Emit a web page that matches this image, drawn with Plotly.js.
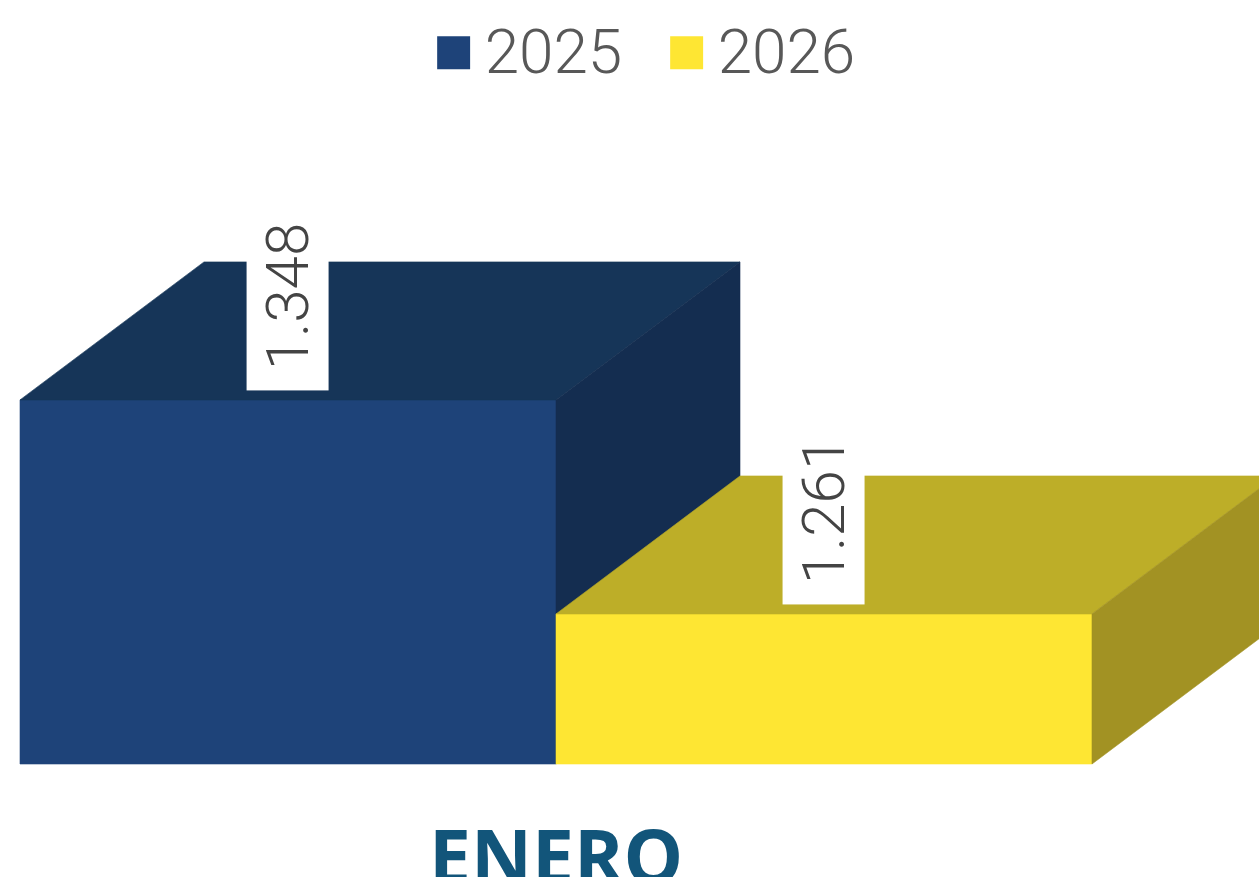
<!DOCTYPE html>
<html>
<head>
<meta charset="utf-8">
<script src="https://cdn.plot.ly/plotly-3.0.1.min.js"></script>
<style>
  html, body { margin: 0; padding: 0; background: #ffffff; }
  #chart { width: 1259px; height: 877px; }
</style>
</head>
<body>
<div id="chart"></div>
<script>
// ---- data ----
const categories = ['ENERO'];
const seriesNames = ['2025', '2026'];
const values2025 = [1348];
const values2026 = [1261];
const axisBase = 1200;   // value axis starts here

// ---- styles ----
const frontColors = ['#1e4379', '#fee633'];
const topColors   = ['#163558', '#bdae28'];
const sideColors  = ['#142d50', '#a29223'];

// ---- layout scales (pixel calibration) ----
const W = 1259, H = 877;
const marginT = 150, marginB = 75;
const plotBottomPx = H - marginB;
const pxPerUnitX = 1072;      // one category width in pixels
const pxPerUnitY = 2.46;      // pixels per value unit
const firstBarLeftPx = 20;
const basePx = 764;
const depthPxX = 184, depthPxY = 138;

const xMin = -0.5 - firstBarLeftPx / pxPerUnitX;
const xMax = xMin + W / pxPerUnitX;
const yMin = axisBase - (plotBottomPx - basePx) / pxPerUnitY;
const yMax = yMin + (plotBottomPx - marginT) / pxPerUnitY;
const dX = depthPxX / pxPerUnitX;
const dY = depthPxY / pxPerUnitY;

const allSeries = [values2025, values2026];
const nS = allSeries.length;
const barW = 1 / nS;

function fmt(v) {
  return String(Math.round(v)).replace(/\B(?=(\d{3})+(?!\d))/g, '.');
}

function poly(xs, ys, color) {
  return {
    type: 'scatter', mode: 'lines',
    x: xs.concat([xs[0]]), y: ys.concat([ys[0]]),
    fill: 'toself', fillcolor: color,
    line: { color: color, width: 0.6 },
    hoverinfo: 'skip', showlegend: false
  };
}

const traces = [];
const annotations = [];
categories.forEach(function (cat, ci) {
  allSeries.forEach(function (vals, si) {
    const v = vals[ci];
    const x0 = ci - 0.5 + si * barW;
    const x1 = x0 + barW;
    // front face
    traces.push(poly([x0, x1, x1, x0], [axisBase, axisBase, v, v], frontColors[si]));
    // top face
    traces.push(poly([x0, x1, x1 + dX, x0 + dX], [v, v, v + dY, v + dY], topColors[si]));
    // side face
    traces.push(poly([x1, x1 + dX, x1 + dX, x1], [axisBase, axisBase + dY, v + dY, v], sideColors[si]));
    annotations.push({
      x: x0 + barW / 2, y: v, xref: 'x', yref: 'y',
      text: '\u00a0' + fmt(v),
      textangle: -90, showarrow: false,
      xanchor: 'center', yanchor: 'bottom', yshift: 9,
      bgcolor: '#ffffff', borderpad: 5,
      font: { family: 'Roboto', size: 60, weight: 300, color: '#444444' }
    });
  });
});

// legend entries
seriesNames.forEach(function (name, si) {
  traces.push({
    type: 'scatter', mode: 'markers', x: [null], y: [null], name: name,
    marker: { symbol: 'square', size: 16, color: frontColors[si], line: { width: 0 } },
    hoverinfo: 'skip', showlegend: true
  });
});

const layout = {
  width: W, height: H,
  margin: { l: 0, r: 0, t: marginT, b: marginB, pad: 0 },
  paper_bgcolor: '#ffffff', plot_bgcolor: '#ffffff',
  showlegend: true,
  legend: {
    orientation: 'h', x: 0.5295, xanchor: 'center', y: 1.155, yanchor: 'middle',
    entrywidth: 188, entrywidthmode: 'pixels',
    font: { family: 'Roboto', size: 62, weight: 300, color: '#585858' },
    itemclick: false, itemdoubleclick: false
  },
  xaxis: {
    range: [xMin, xMax], fixedrange: true,
    tickvals: categories.map(function (c, i) { return i; }),
    ticktext: categories,
    tickfont: { family: 'Open Sans', size: 75, weight: 700, color: '#12557a' },
    showgrid: false, zeroline: false, showline: false, ticks: '',
    ticklabelstandoff: 6
  },
  yaxis: {
    range: [yMin, yMax], fixedrange: true, visible: false,
    showgrid: false, zeroline: false
  },
  annotations: annotations
};

Plotly.newPlot('chart', traces, layout, { displayModeBar: false, staticPlot: true }).then(function () {
  document.querySelectorAll('.legend .legendpoints path.scatterpts').forEach(function (p) {
    p.setAttribute('transform', 'translate(20,4) scale(2.06)');
  });
  document.querySelectorAll('.legend .legendtext').forEach(function (t) {
    t.setAttribute('x', '51');
  });
});
</script>
</body>
</html>
